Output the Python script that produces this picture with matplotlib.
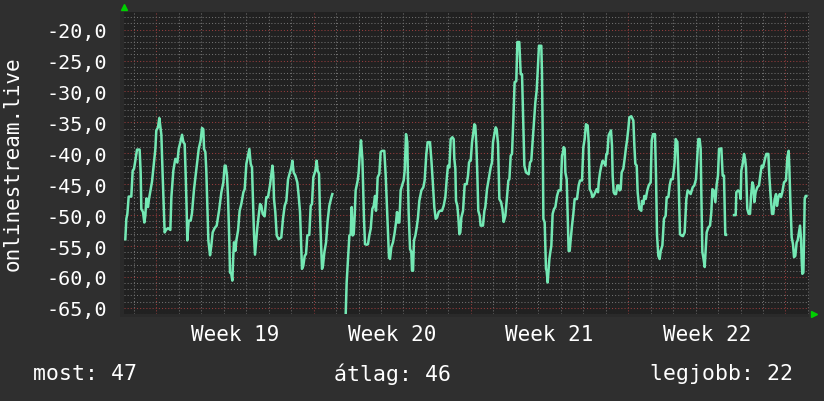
import numpy as np
import matplotlib
matplotlib.use("Agg")
import matplotlib.pyplot as plt
from matplotlib.ticker import MultipleLocator

# hours since Monday 00:00 of week 19, value (NaN = no data)
hours = [
    -33.1, -32.0, -30.9, -29.5, -26.7, -25.2, -23.8, -22.4, -20.6, -17.8,
    -16.7, -16.0, -14.2, -12.8, -11.7, -10.6, -8.9, -7.8, -6.4, -4.6,
    -2.5, -1.0, 0.0, 1.8, 3.2, 4.7, 5.4, 6.8, 7.9, 8.9,
    10.4, 12.5, 15.0, 16.1, 18.2, 20.3, 22.5, 23.9, 25.7, 27.5,
    28.9, 30.3, 31.4, 32.4, 33.1, 34.6, 36.7, 38.1, 40.3, 42.8,
    45.3, 47.4, 48.8, 50.2, 51.0, 52.4, 53.4, 54.5, 55.6, 57.4,
    58.8, 60.2, 62.3, 64.5, 67.0, 69.5, 71.6, 73.0, 74.1, 75.5,
    76.6, 78.0, 78.7, 80.1, 81.2, 82.3, 83.0, 84.4, 85.5, 87.3,
    89.0, 90.8, 93.0, 94.4, 96.2, 97.9, 99.4, 100.8, 102.2, 103.3,
    104.4, 105.4, 106.5, 107.9, 109.3, 110.8, 112.2, 113.6, 115.7, 117.5,
    119.3, 121.4, 122.9, 124.0, 125.0, 125.7, 127.1, 128.6, 130.7, 133.5,
    135.3, 137.1, 138.9, 140.7, 142.4, 144.2, 145.3, 146.7, 148.5, 150.6,
    151.7, 153.5, 154.5, 155.6, 157.0, 158.5, 159.9, 161.3, 163.4, 164.9,
    166.3, 167.7, 169.9, 171.3, 172.3, 173.8, 174.8, 175.9, 177.0, 178.0,
    179.5, 181.3, 183.0, 184.8, 187.0, 188.0, 190.0,
    201.9, 203.3, 204.7, 206.2, 207.6, 208.7, 209.7, 210.8, 211.9, 212.9,
    215.1, 216.1, 217.2, 218.6, 220.1, 221.1, 221.8, 222.9, 224.7, 226.1,
    227.5, 229.0, 230.7, 232.2, 233.6, 234.6, 235.7, 236.4, 238.2, 239.6,
    241.1, 243.5, 245.0, 246.0, 247.1, 248.5, 249.6, 251.0, 252.8, 254.6,
    256.0, 257.1, 258.1, 259.6, 261.0, 263.1, 264.2, 265.3, 266.7, 268.1,
    268.5, 269.5, 271.0, 272.4, 273.1, 274.2, 275.2, 276.7, 278.1, 279.5,
    280.9, 283.1, 285.2, 286.6, 288.4, 289.8, 292.3, 293.7, 295.2, 296.9,
    298.4, 299.8, 301.6, 303.0, 305.1, 306.9, 308.7, 310.5, 311.5, 313.0,
    314.4, 316.2, 317.6, 318.3, 319.4, 320.1, 321.5, 322.6, 323.7, 324.7,
    325.8, 327.6, 329.4, 331.5, 332.9, 334.0, 335.0, 335.8, 337.2, 338.2,
    339.7, 340.7, 341.8, 342.9, 343.9, 345.4, 346.4, 348.9, 350.4, 351.4,
    353.2, 355.0, 357.1, 358.5, 359.6, 361.4, 362.5, 363.5, 365.0, 366.4,
    368.2, 369.6, 371.0, 372.8, 374.2, 376.0, 377.1, 378.5, 379.9, 381.3,
    382.7, 384.5, 385.6, 387.7, 389.2, 390.6, 392.0, 393.1, 394.9, 397.7,
    399.1, 400.5, 401.6, 403.0, 404.8, 406.2, 407.3, 408.7, 411.2, 411.9,
    412.7, 413.4, 414.8, 416.2, 416.9, 418.0, 419.8, 420.8, 421.9, 423.3,
    424.8, 426.2, 428.0, 429.7, 431.9, 433.3, 434.4, 435.1, 436.2, 436.9,
    438.3, 439.4, 440.4, 441.5, 442.6, 444.0, 445.4, 446.8, 449.3, 451.1,
    452.5, 454.7, 456.1, 457.5, 458.9, 460.7, 461.8, 462.9, 464.6, 465.7,
    467.1, 468.9, 470.3, 471.8, 472.5, 473.9, 475.3, 476.7, 478.2, 479.6,
    480.7, 481.7, 483.1, 484.6, 485.6, 486.7, 487.4, 488.5, 489.6, 491.0,
    492.4, 493.8, 494.9, 496.0, 497.0, 498.8, 500.2, 501.7, 502.7, 504.1,
    505.2, 507.3, 509.5, 510.6, 511.6, 513.1, 514.1, 515.9, 518.0, 518.7,
    520.2, 521.2, 522.7, 524.4, 525.9, 528.0, 529.1, 530.5, 532.6, 533.7,
    534.8, 536.2, 537.6, 538.7, 540.5, 542.2, 544.0, 545.1, 546.9, 548.3,
    549.7, 551.5, 552.9, 553.6, 554.7, 556.5, 557.2, 557.9, 558.6, 559.3,
    560.8, 562.5, 564.3, 566.1, 567.5, 569.3, 570.7, 572.9, 574.6, 576.4,
    577.8, 578.9, 580.3, 581.4, 582.1, 583.2, 584.2, 585.7, 586.4, 587.8,
    589.6, 591.4, 592.8, 593.9, 595.3, 596.4, 597.1, 598.5, 599.9, 601.0,
    603.5, 604.9, 606.3, 607.0, 607.7, 608.5, 610.0,
    617.0, 618.8, 619.5, 621.3, 623.1, 624.1, 624.8, 626.3, 627.7, 628.8,
    629.8, 631.2, 632.7, 634.1, 635.2, 636.6, 637.7, 638.7, 640.1, 641.9,
    643.7, 645.5, 646.6, 648.0, 650.1, 651.5, 653.7, 654.7, 656.2, 657.6,
    659.0, 660.4, 661.9, 662.9, 664.4, 665.8, 667.2, 668.6, 670.4, 672.5,
    674.0, 675.4, 676.1, 677.2, 678.6, 680.0, 681.1, 682.5, 683.9, 685.0,
    686.4, 687.5, 688.6, 689.3, 690.0, 691.1, 691.8, 692.5, 693.5, 694.3,
]
values = [
    -53.9, -50.6, -49.8, -47.0, -47.0, -42.8, -42.5, -41.2, -39.4, -39.4,
    -43.1, -49.0, -49.5, -51.2, -50.1, -47.3, -48.7, -47.4, -46.2, -44.6,
    -41.5, -39.3, -36.3, -35.8, -34.3, -36.1, -37.0, -43.6, -48.2, -52.8,
    -52.4, -52.1, -52.4, -47.1, -42.8, -40.9, -41.5, -39.3, -38.2, -37.0,
    -38.2, -38.5, -43.6, -49.0, -54.1, -50.9, -50.9, -49.7, -45.8, -42.5,
    -39.3, -37.9, -35.9, -36.1, -39.3, -39.8, -42.8, -48.5, -54.1, -56.5,
    -54.9, -52.8, -52.1, -51.7, -49.3, -46.3, -44.7, -42.0, -42.0, -43.6,
    -47.1, -54.4, -59.3, -59.5, -60.6, -56.3, -54.4, -55.8, -54.1, -52.5,
    -49.3, -48.2, -46.3, -45.8, -41.7, -40.4, -39.3, -41.7, -42.3, -47.9,
    -53.3, -56.4, -54.4, -52.0, -50.1, -48.2, -48.5, -49.8, -50.2, -47.1,
    -47.1, -45.2, -43.3, -42.0, -43.6, -47.4, -49.5, -53.3, -53.9, -53.6,
    -50.6, -48.5, -47.7, -44.2, -43.3, -42.3, -41.2, -43.1, -43.6, -44.7,
    -46.3, -49.5, -53.9, -58.7, -58.2, -56.6, -56.3, -53.3, -53.2, -48.5,
    -48.2, -43.9, -42.8, -41.2, -42.8, -43.3, -49.5, -54.4, -58.7, -58.2,
    -56.0, -54.4, -50.9, -48.5, -47.1, -46.6, np.nan,
    -68.0, -60.9, -57.1, -53.3, -53.1, -48.7, -53.3, -53.1, -50.1, -46.0,
    -44.4, -43.1, -40.4, -37.9, -40.9, -46.3, -50.6, -54.7, -54.8, -54.7,
    -53.3, -52.2, -49.0, -48.5, -46.9, -49.3, -46.6, -43.9, -43.3, -39.8,
    -39.6, -39.6, -43.6, -47.4, -51.2, -56.8, -57.1, -55.2, -54.4, -52.8,
    -51.2, -49.5, -51.2, -51.2, -46.0, -44.9, -44.4, -42.8, -36.9, -38.2,
    -42.0, -49.5, -55.5, -56.0, -59.0, -59.0, -54.1, -53.3, -52.0, -50.4,
    -47.7, -46.0, -45.5, -44.4, -40.1, -38.2, -38.2, -40.9, -44.4, -48.7,
    -50.6, -50.4, -49.5, -49.3, -49.3, -48.5, -47.1, -43.6, -42.0, -42.3,
    -37.7, -37.4, -37.7, -40.9, -42.5, -47.7, -48.5, -50.4, -53.1, -52.8,
    -50.4, -49.3, -45.0, -45.0, -43.6, -41.5, -41.2, -41.2, -38.2, -37.1,
    -35.3, -35.5, -38.5, -43.6, -49.3, -50.1, -51.7, -51.7, -49.3, -48.7,
    -45.8, -44.2, -42.3, -41.5, -38.2, -36.6, -35.8, -36.1, -38.5, -47.4,
    -47.9, -49.0, -51.1, -50.1, -47.7, -44.4, -44.2, -40.4, -40.1, -34.7,
    -28.5, -28.3, -22.0, -22.0, -27.2, -27.2, -35.5, -42.0, -43.1, -43.4,
    -41.5, -41.2, -38.8, -35.8, -31.8, -29.9, -26.9, -22.6, -22.6, -26.9,
    -37.1, -50.6, -51.2, -58.7, -59.0, -60.9, -57.1, -56.0, -55.0, -49.8,
    -49.0, -48.7, -46.9, -46.0, -46.0, -40.4, -39.8, -39.0, -39.3, -43.1,
    -44.2, -50.1, -55.8, -55.8, -53.9, -51.7, -49.8, -47.4, -47.4, -45.2,
    -44.4, -44.4, -39.0, -37.7, -35.3, -35.5, -38.2, -45.8, -46.3, -47.1,
    -46.9, -46.3, -45.8, -46.3, -44.7, -43.1, -42.0, -41.2, -41.5, -42.0,
    -40.1, -40.1, -37.1, -36.6, -36.3, -38.8, -43.6, -46.3, -46.6, -46.6,
    -45.2, -45.2, -46.0, -45.8, -43.1, -42.5, -40.9, -39.0, -38.0, -36.1,
    -34.2, -34.0, -34.7, -38.8, -41.7, -42.0, -46.3, -49.0, -49.3, -47.7,
    -48.2, -46.9, -47.4, -46.0, -45.2, -44.7, -37.9, -36.9, -36.9, -43.6,
    -53.3, -56.6, -57.1, -55.8, -54.9, -50.6, -50.1, -47.1, -47.1, -45.2,
    -44.2, -44.2, -42.5, -41.5, -37.7, -38.2, -41.5, -44.7, -49.0, -53.1,
    -53.3, -53.4, -52.8, -47.4, -46.0, -46.3, -46.6, -45.5, -45.2, -44.2,
    -40.6, -37.7, -37.7, -39.3, -46.3, -56.0, -56.8, -58.4, -56.6, -52.8,
    -52.0, -51.7, -49.5, -45.8, -46.0, -47.1, -47.9, -45.0, -43.6, -39.3,
    -39.2, -43.6, -43.6, -48.5, -53.2, -53.2, np.nan,
    -50.0, -50.0, -46.3, -46.0, -46.3, -47.4, -42.8, -41.7, -40.1, -40.9,
    -42.3, -49.0, -49.8, -49.8, -46.9, -44.7, -45.2, -47.9, -46.3, -45.5,
    -45.2, -43.1, -42.0, -42.3, -40.9, -40.1, -40.1, -43.6, -47.1, -49.8,
    -49.8, -47.4, -46.6, -48.5, -47.1, -46.6, -47.1, -46.3, -44.7, -44.4,
    -40.6, -39.6, -42.3, -47.7, -53.6, -54.7, -56.8, -56.6, -54.4, -54.1,
    -52.8, -51.7, -53.9, -57.4, -59.5, -59.3, -53.9, -47.4, -46.9, -46.9,
]

week_labels = ["Week 19", "Week 20", "Week 21", "Week 22"]
y_label = "onlinestream.live"
stats = [("most", 47), ("átlag", 46), ("legjobb", 22)]

BACK = "#2f2f2f"
CANVAS = "#212121"
FRAME = "#2a2a2a"
LINE = "#74e8b4"
GRID = "#707070"
MGRID = "#963c3c"
FONT = "DejaVu Sans Mono"
DOTS = (0, (1, 2))

fig = plt.figure(figsize=(8.24, 4.02), dpi=100, facecolor=BACK)

# slightly lighter frame left of and below the canvas
frame = fig.add_axes([120 / 824, 1 - 318 / 402, 689 / 824, 305 / 402])
frame.set_axis_off()
frame.add_patch(plt.Rectangle((0, 0), 1, 1, transform=frame.transAxes,
                              color=FRAME))

ax = fig.add_axes([124 / 824, 1 - 315 / 402, 685 / 824, 302 / 402])
ax.set_facecolor(CANVAS)

ax.set_xlim(-34.5, 697.1)
ax.set_ylim(-66.0, -17.14)

# horizontal grid: minor every 1 unit, major every 5 units
ax.yaxis.set_minor_locator(MultipleLocator(1))
ax.yaxis.set_major_locator(MultipleLocator(5))
ax.grid(which="minor", axis="y", color=GRID, ls=DOTS, lw=0.75)
ax.grid(which="major", axis="y", color=MGRID, ls=DOTS, lw=0.75)
# vertical grid: every day grey, every week red
for day in range(-24, 700, 24):
    ax.axvline(day, color=MGRID if day % 168 == 0 else GRID, ls=DOTS,
               lw=0.75, zorder=1.5)

ax.set_xticks([84 + 168 * i for i in range(len(week_labels))])
ax.set_xticklabels(week_labels)
ax.yaxis.set_major_formatter(lambda v, p: f"{v:.1f}".replace(".", ","))

ax.tick_params(axis="x", which="major", length=0, pad=7, labelsize=15,
               labelcolor="white")
ax.tick_params(axis="y", which="major", length=0, pad=12, labelsize=14.5,
               labelcolor="white")
ax.tick_params(which="minor", length=0)
for lab in ax.get_xticklabels() + ax.get_yticklabels():
    lab.set_family(FONT)

for s in ax.spines.values():
    s.set_visible(False)

ax.plot(hours, values, color=LINE, lw=1.8, zorder=3)

# axis arrows
ax.plot([0], [1.018], marker="^", color="#00d000", ms=4, transform=ax.transAxes,
        clip_on=False)
ax.plot([1.008], [0.0], marker=">", color="#00d000", ms=4, transform=ax.transAxes,
        clip_on=False)

fig.text(13 / 824, 1 - 164 / 402, y_label, rotation=90, ha="center", va="center",
         color="white", fontsize=15, family=FONT)

(n1, v1), (n2, v2), (n3, v3) = stats
fig.text(33 / 824, 1 - 374 / 402, f"{n1}: {v1}", ha="left", va="center",
         color="white", fontsize=15.5, family=FONT)
fig.text(334 / 824, 1 - 374 / 402, f"{n2}: {v2}", ha="left", va="center",
         color="white", fontsize=15.5, family=FONT)
fig.text(793 / 824, 1 - 374 / 402, f"{n3}: {v3}", ha="right", va="center",
         color="white", fontsize=15.5, family=FONT)

fig.savefig("out.png", dpi=100, facecolor=BACK)
